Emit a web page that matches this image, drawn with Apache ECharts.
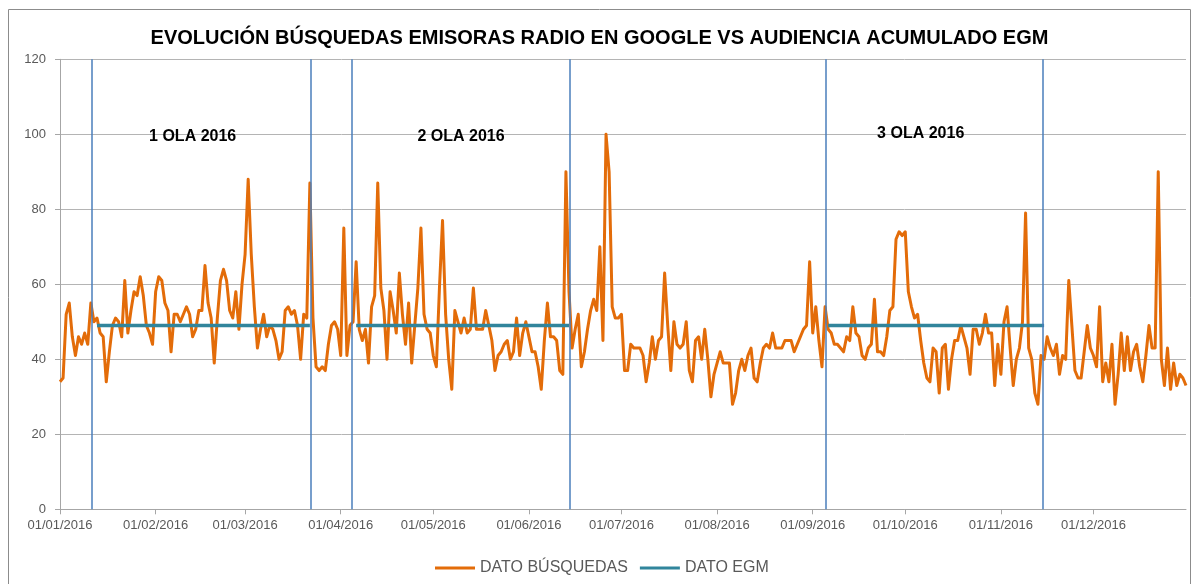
<!DOCTYPE html>
<html>
<head>
<meta charset="utf-8">
<title>Evolución búsquedas emisoras radio</title>
<script src="https://cdn.jsdelivr.net/npm/echarts@6/dist/echarts.min.js"></script>
<style>
  html, body { margin: 0; padding: 0; background: #fff; }
  #main { width: 1199px; height: 584px; }
</style>
</head>
<body>
<div id="main"></div>
<script>
// datos diarios 2016 (dia 0 = 01/01/2016)
var busquedas = [
  34, 35, 52, 55, 46, 41, 46, 44, 47, 44,
  55, 50, 51, 47, 46, 34, 42, 49, 51, 50,
  46, 61, 47, 53, 58, 57, 62, 57, 49, 47,
  44, 58, 62, 61, 55,
  53, 42, 52, 52, 50, 52, 54, 52, 46, 48,
  53, 53, 65, 55, 51, 39, 51, 61, 64, 61,
  53, 51, 58, 48, 60, 68, 88, 68, 54, 43,
  48, 52, 46, 49, 48, 45, 40,
  42, 53, 54, 52, 53, 49, 40, 52,
  51, 87, 51, 38, 37, 38, 37, 44, 49, 50,
  48, 41, 75, 41, 49, 50, 66, 48, 45, 48,
  39, 54, 57, 87, 59, 53, 40, 58,
  53, 47, 63, 52, 44, 55, 39, 49, 59, 75,
  52, 48, 47, 41, 38, 59, 77, 52, 40, 32,
  53, 50, 47, 51, 47, 48, 59, 48, 48, 48,
  53, 49, 45, 37, 41,
  42, 44, 45, 40, 42, 51, 41, 47, 50, 46,
  42, 42, 38, 32, 45, 55, 46, 46, 45, 37,
  36, 90, 58, 43, 48, 52, 38, 42, 48, 53,
  56, 53, 70, 45, 100, 90,
  54, 51, 51, 52, 37, 37, 44, 43, 43, 43,
  41, 34, 39, 46, 40, 45, 46, 63, 49, 37,
  50, 44, 43, 44, 50, 37, 34, 45, 46, 40,
  48, 40, 30, 36, 39, 42,
  39, 39, 39, 28, 31, 37, 40, 37, 41, 43,
  35, 34, 39, 43, 44, 43, 47, 43, 43, 43,
  45, 45, 45, 42, 44, 46, 48, 49, 66, 47,
  54, 45, 38, 54, 48, 47, 44,
  44, 43, 42, 46, 45, 54, 47, 46, 41, 40,
  43, 44, 56, 42, 42, 41, 46, 53, 54, 72,
  74, 73, 74, 58, 54, 51, 52, 45, 39, 35,
  34, 43, 42, 31, 43, 44, 32,
  40, 45, 45, 49, 46, 43, 36, 48, 48, 44,
  47, 52, 47, 47, 33, 44, 36, 50, 54, 43,
  33, 40, 43, 50, 79, 43, 40, 31, 28, 41,
  40, 46, 43, 41, 44, 36, 41, 40,
  61, 49, 37, 35, 35, 42, 49, 43, 41, 38,
  54, 34, 39, 34, 44, 28, 36, 47, 37, 46,
  37, 42, 44, 38, 34, 41, 49, 43, 43, 90,
  40, 33, 43, 32, 39, 33, 36, 35, 33
];

// tramos del dato EGM (dia inicio, dia fin, valor)
var egmInicio = [12, 96, 249];
var egmFin = [81, 165, 319];
var egmValor = [49, 49, 49];

// lineas verticales de las olas (en dias)
var olaLineas = [10.4, 81.3, 94.5, 165.4, 248.2, 318.6];
var olaTextos = ['1 OLA 2016', '2 OLA 2016', '3 OLA 2016'];
var olaTextoDia = [43, 130, 279];
var olaTextoValor = [99.5, 99.5, 100.3];

var mesInicio = [0, 31, 60, 91, 121, 152, 182, 213, 244, 274, 305, 335];
var mesEtiquetas = ['01/01/2016', '01/02/2016', '01/03/2016', '01/04/2016', '01/05/2016', '01/06/2016',
  '01/07/2016', '01/08/2016', '01/09/2016', '01/10/2016', '01/11/2016', '01/12/2016'];

var datosBusquedas = busquedas.map(function (v, i) { return [i, v]; });

var datosEgm = [];
for (var i = 0; i < egmInicio.length; i++) {
  datosEgm.push([egmInicio[i], egmValor[i]]);
  datosEgm.push([egmFin[i], egmValor[i]]);
  datosEgm.push([egmFin[i], '-']);
}

var puntosOla = olaTextos.map(function (t, i) {
  return { name: t, coord: [olaTextoDia[i], olaTextoValor[i]] };
});

var chart = echarts.init(document.getElementById('main'), null, { renderer: 'canvas' });

var option = {
  animation: false,
  title: {
    text: 'EVOLUCIÓN BÚSQUEDAS EMISORAS RADIO EN GOOGLE VS AUDIENCIA ACUMULADO EGM',
    left: 'center',
    top: 23,
    textStyle: { fontFamily: 'Liberation Sans', fontSize: 20, fontWeight: 'bold', color: '#000' }
  },
  graphic: [{
    type: 'rect',
    shape: { x: 8.5, y: 9.5, width: 1182, height: 600 },
    style: { fill: 'none', stroke: '#8c8c8c', lineWidth: 1 },
    silent: true
  }],
  grid: { left: 60, right: 13, top: 59.3, bottom: 74.7 },
  legend: {
    data: ['DATO BÚSQUEDAS', 'DATO EGM'],
    left: 430,
    top: 555,
    icon: 'rect',
    itemWidth: 40,
    itemHeight: 3,
    itemGap: 12,
    textStyle: { fontFamily: 'Liberation Sans', fontSize: 16, color: '#595959' }
  },
  xAxis: {
    type: 'value',
    min: 0,
    max: 365,
    axisLine: { show: true, lineStyle: { color: '#a6a6a6' } },
    axisTick: { show: true, length: 5, customValues: mesInicio, lineStyle: { color: '#a6a6a6' } },
    splitLine: { show: false },
    axisLabel: {
      customValues: mesInicio,
      margin: 10,
      fontFamily: 'Liberation Sans',
      fontSize: 13,
      color: '#595959',
      formatter: function (v) {
        var k = mesInicio.indexOf(Math.round(v));
        return k >= 0 ? mesEtiquetas[k] : '';
      }
    }
  },
  yAxis: {
    type: 'value',
    min: 0,
    max: 120,
    interval: 20,
    axisLine: { show: true, lineStyle: { color: '#a6a6a6' } },
    axisTick: { show: true, length: 5, lineStyle: { color: '#a6a6a6' } },
    splitLine: { show: true, lineStyle: { color: '#b4b4b4' } },
    axisLabel: { margin: 14, fontFamily: 'Liberation Sans', fontSize: 13, color: '#595959' }
  },
  series: [
    {
      name: 'DATO BÚSQUEDAS',
      type: 'line',
      data: datosBusquedas,
      showSymbol: false,
      symbol: 'none',
      itemStyle: { color: '#e36c09' },
      lineStyle: { color: '#e36c09', width: 3, join: 'round' },
      z: 3
    },
    {
      name: 'DATO EGM',
      type: 'line',
      data: datosEgm,
      showSymbol: false,
      symbol: 'none',
      connectNulls: false,
      itemStyle: { color: '#31859c' },
      lineStyle: { color: '#31859c', width: 3.5 },
      z: 4,
      markLine: {
        silent: true,
        symbol: ['none', 'none'],
        label: { show: false },
        lineStyle: { color: '#4a7ebb', width: 1.5, type: 'solid' },
        data: olaLineas.map(function (d) { return { xAxis: d }; })
      },
      markPoint: {
        silent: true,
        symbol: 'circle',
        symbolSize: 0,
        label: {
          show: true,
          formatter: '{b}',
          fontFamily: 'Liberation Sans',
          fontSize: 16,
          fontWeight: 'bold',
          color: '#000'
        },
        data: puntosOla
      }
    }
  ]
};

chart.setOption(option);
</script>
</body>
</html>
